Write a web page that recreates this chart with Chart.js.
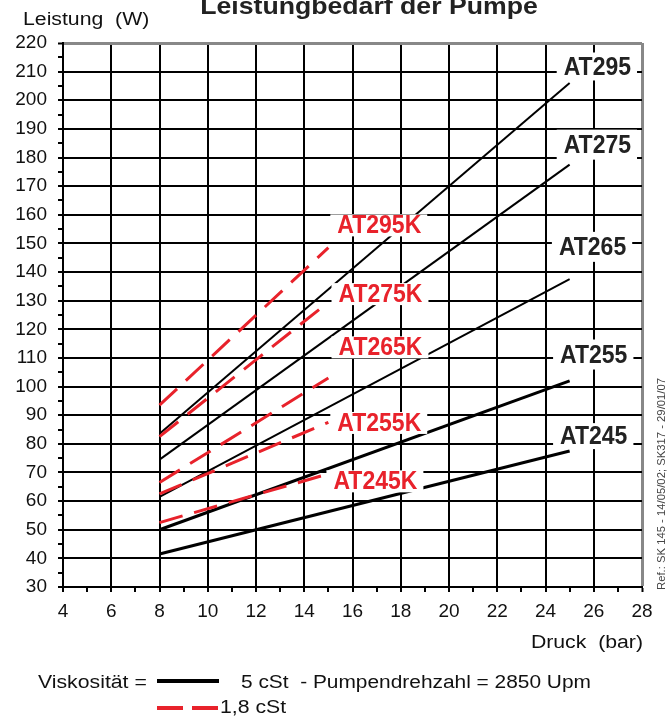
<!DOCTYPE html>
<html>
<head>
<meta charset="utf-8">
<script src="https://cdn.jsdelivr.net/npm/chart.js@4.4.0/dist/chart.umd.min.js"></script>
<style>
  html, body { margin: 0; padding: 0; background: #fff; }
</style>
</head>
<body>
<canvas id="chart" width="672" height="720"></canvas>
<script>
// Druck (bar) - Anfang und Ende der Kurven
const druck = [8, 25];
const druckK = [8, 15];

// Leistung (W), 5 cSt
const at295 = [83.5, 206];
const at275 = [74.5, 177.5];
const at265 = [61.5, 137.5];
const at255 = [50, 102];
const at245 = [41.5, 77.5];

// Leistung (W), 1,8 cSt
const at295K = [93.5, 148.5];
const at275K = [82.5, 129.5];
const at265K = [66.5, 103];
const at255K = [62.5, 87.5];
const at245K = [52.5, 69.5];

const FONT = "'Liberation Sans', Arial, sans-serif";
const BLACK = '#000000';
const RED = '#e8222b';

const pts = (xs, ys) => xs.map((x, i) => ({ x: x, y: ys[i] }));

// Beschriftungen der Kurven (Lage in Datenkoordinaten)
const curveLabels = [
  { text: 'AT295', x: 26.15, y: 211.8, color: '#222', padY: 14 },
  { text: 'AT275', x: 26.15, y: 184.5, color: '#222', padY: 15 },
  { text: 'AT265', x: 25.95, y: 148.8, color: '#222', padY: 15 },
  { text: 'AT255', x: 26.0, y: 111.2, color: '#222', padY: 15 },
  { text: 'AT245', x: 26.0, y: 82.7, color: '#222', padY: 13 },
  { text: 'AT295K', x: 17.11, y: 156.3, color: RED, padY: 11 },
  { text: 'AT275K', x: 17.16, y: 132.3, color: RED, padY: 11 },
  { text: 'AT265K', x: 17.16, y: 113.7, color: RED, padY: 11 },
  { text: 'AT255K', x: 17.11, y: 87.3, color: RED, padY: 11 },
  { text: 'AT245K', x: 16.95, y: 66.9, color: RED, padY: 11 }
];

function txt(ctx, s, x, y, o) {
  ctx.save();
  ctx.font = o.font;
  ctx.fillStyle = o.color || '#111';
  ctx.textAlign = o.align || 'left';
  ctx.textBaseline = o.base || 'middle';
  ctx.translate(x, y);
  if (o.rot) ctx.rotate(o.rot);
  ctx.scale(o.sx || 1, o.sy || 1);
  ctx.fillText(s, 0, 0);
  ctx.restore();
}

const textPlugin = {
  id: 'texte',
  afterDatasetsDraw(chart) {
    const ctx = chart.ctx;
    const xs = chart.scales.x, ys = chart.scales.y;
    const bold = 'bold 23px ' + FONT;
    curveLabels.forEach(l => {
      const px = xs.getPixelForValue(l.x);
      const py = ys.getPixelForValue(l.y);
      ctx.save();
      ctx.font = bold;
      const w = ctx.measureText(l.text).width;
      ctx.fillStyle = '#fff';
      ctx.fillRect(px - w / 2 - 7, py - l.padY, w + 13, l.padY * 2);
      ctx.restore();
      txt(ctx, l.text, px, py + 1, { font: bold, color: l.color, align: 'center', sy: 1.12 });
    });
  },
  afterDraw(chart) {
    const ctx = chart.ctx;
    const reg = '18px ' + FONT;
    txt(ctx, 'Leistungbedarf der Pumpe', 369, 14, { font: 'bold 24px ' + FONT, color: '#222', align: 'center', base: 'alphabetic', sx: 1.11 });
    txt(ctx, 'Leistung  (W)', 23, 20, { font: reg, sx: 1.18 });
    txt(ctx, 'Druck  (bar)', 643, 643, { font: reg, align: 'right', sx: 1.18 });
    txt(ctx, 'Viskosität =', 38, 683, { font: reg, sx: 1.18 });
    txt(ctx, '5 cSt  - Pumpendrehzahl = 2850 Upm', 241, 683, { font: reg, sx: 1.16 });
    txt(ctx, '1,8 cSt', 220, 708, { font: reg, sx: 1.18 });

    // Legende
    ctx.save();
    ctx.lineWidth = 4;
    ctx.strokeStyle = BLACK;
    ctx.beginPath(); ctx.moveTo(157, 681); ctx.lineTo(219, 681); ctx.stroke();
    ctx.strokeStyle = RED;
    ctx.beginPath(); ctx.moveTo(157, 708); ctx.lineTo(183, 708); ctx.moveTo(192, 708); ctx.lineTo(218, 708); ctx.stroke();
    ctx.restore();

    // Referenz
    ctx.save();
    const ref = 'Ref.: SK 145 - 14/05/02; SK317 - 29/01/07';
    ctx.font = '11px ' + FONT;
    const rw = ctx.measureText(ref).width;
    ctx.restore();
    txt(ctx, ref, 662, 484, { font: '11px ' + FONT, color: '#444', align: 'center', rot: -Math.PI / 2, sx: 212 / rw });
  }
};

const lineDs = (label, xs, ys, color, width, dash) => ({
  label: label,
  data: pts(xs, ys),
  borderColor: color,
  backgroundColor: color,
  borderWidth: width,
  borderDash: dash || [],
  pointRadius: 0,
  fill: false,
  tension: 0
});

new Chart(document.getElementById('chart'), {
  type: 'line',
  data: {
    datasets: [
      lineDs('AT295K', druckK, at295K, RED, 3, [24, 12]),
      lineDs('AT275K', druckK, at275K, RED, 3, [24, 12]),
      lineDs('AT265K', druckK, at265K, RED, 3, [24, 12]),
      lineDs('AT255K', druckK, at255K, RED, 3, [24, 12]),
      lineDs('AT245K', druckK, at245K, RED, 3, [24, 12]),
      lineDs('AT295', druck, at295, BLACK, 2),
      lineDs('AT275', druck, at275, BLACK, 2),
      lineDs('AT265', druck, at265, BLACK, 2),
      lineDs('AT255', druck, at255, BLACK, 3),
      lineDs('AT245', druck, at245, BLACK, 3)
    ]
  },
  options: {
    responsive: false,
    animation: false,
    devicePixelRatio: 1,
    layout: { padding: { top: 43, right: 30, bottom: 93, left: 0 } },
    plugins: {
      legend: { display: false },
      tooltip: { enabled: false },
      title: { display: false }
    },
    scales: {
      x: {
        type: 'linear',
        min: 4,
        max: 28,
        afterFit: s => { s.height = 40; },
        ticks: {
          stepSize: 1,
          autoSkip: false,
          maxRotation: 0,
          padding: 8,
          color: '#111',
          font: { family: FONT, size: 19 },
          callback: v => (v % 2 === 0 ? v : '')
        },
        grid: {
          color: c => (c.tick && c.tick.value % 2 !== 0 ? 'rgba(0,0,0,0)' : (c.tick && c.tick.value === 28 ? '#888' : '#000')),
          lineWidth: c => (c.tick && c.tick.value === 28 ? 3 : 2),
          tickColor: '#000',
          tickLength: 5,
          tickWidth: 2
        },
        border: { color: '#000', width: 2 }
      },
      y: {
        min: 30,
        max: 220,
        afterFit: s => { s.width = 63; },
        ticks: {
          stepSize: 5,
          autoSkip: false,
          padding: 11,
          color: '#111',
          font: { family: FONT, size: 19 },
          callback: v => (v % 10 === 0 ? v : '')
        },
        grid: {
          color: c => (c.tick && c.tick.value % 10 !== 0 ? 'rgba(0,0,0,0)' : (c.tick && c.tick.value === 220 ? '#888' : '#000')),
          lineWidth: c => (c.tick && c.tick.value === 220 ? 3 : 2),
          tickColor: '#000',
          tickLength: 5,
          tickWidth: 2
        },
        border: { color: '#000', width: 2 }
      }
    }
  },
  plugins: [textPlugin]
});
</script>
</body>
</html>
